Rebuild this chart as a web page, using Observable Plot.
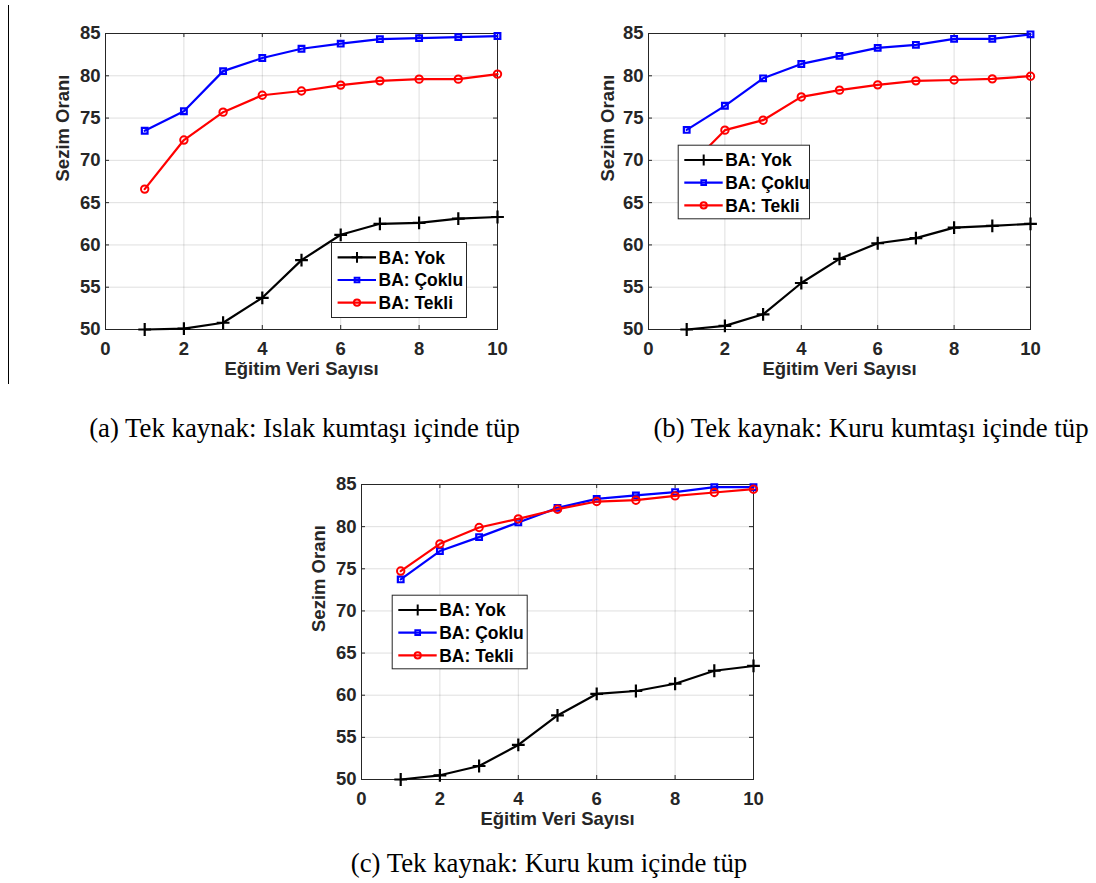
<!DOCTYPE html>
<html><head><meta charset="utf-8">
<script src="https://cdn.jsdelivr.net/npm/d3@7"></script>
<script src="https://cdn.jsdelivr.net/npm/@observablehq/plot@0.6"></script>
<style>
body{margin:0;background:#fff;}
#root{position:relative;width:1096px;height:883px;overflow:hidden;background:#fff;}
#root svg{position:absolute;}
</style></head><body><div id="root"></div>
<script>
// ---- data ----
const egitim = [1,2,3,4,5,6,7,8,9,10];
const seriesNames = ["BA: Yok","BA: Çoklu","BA: Tekli"];
const xTicks = [0,2,4,6,8,10];
const yTicks = [50,55,60,65,70,75,80,85];
const xLabel = "Eğitim Veri Sayısı";
const yLabel = "Sezim Oranı";
const a_yok   = [50.0,50.1,50.8,53.75,58.2,61.2,62.5,62.6,63.1,63.3];
const a_coklu = [73.5,75.8,80.55,82.1,83.2,83.8,84.33,84.45,84.57,84.7];
const a_tekli = [66.6,72.4,75.7,77.7,78.2,78.9,79.4,79.6,79.6,80.2];
const b_yok   = [50.0,50.43,51.8,55.5,58.35,60.2,60.8,62.05,62.25,62.5];
const b_coklu = [73.6,76.45,79.7,81.4,82.36,83.3,83.66,84.37,84.37,84.9];
const b_tekli = [69.0,73.57,74.75,77.5,78.3,78.93,79.4,79.5,79.64,79.95];
const c_yok   = [50.0,50.5,51.6,54.1,57.6,60.15,60.5,61.36,62.9,63.47];
const c_coklu = [73.74,77.1,78.76,80.5,82.23,83.3,83.7,84.1,84.68,84.68];
const c_tekli = [74.73,77.96,79.9,80.92,82.07,82.98,83.14,83.65,84.05,84.44];
const captions = [
  "(a) Tek kaynak: Islak kumtaşı içinde tüp",
  "(b) Tek kaynak: Kuru kumtaşı içinde tüp",
  "(c) Tek kaynak: Kuru kum içinde tüp"
];

// ---- drawing ----
const root = document.getElementById("root");
const dark = "#262626";
const colors = ["#000000", "#0000ff", "#ff0000"];
const sans = "'Liberation Sans', Arial, Helvetica, sans-serif";

// background layer: left rule and captions
const bg = d3.select(root).append("svg").attr("width", 1096).attr("height", 883)
  .style("left", "0px").style("top", "0px");
bg.append("line").attr("x1", 8.5).attr("x2", 8.5).attr("y1", 5).attr("y2", 384)
  .attr("stroke", "#000").attr("stroke-width", 1);
const capPos = [[304.5, 436.5], [871, 436.5], [549, 871.5]];
captions.forEach((c, i) => {
  bg.append("text").attr("x", capPos[i][0]).attr("y", capPos[i][1])
    .attr("text-anchor", "middle").attr("font-family", "'Liberation Serif', 'Times New Roman', serif")
    .attr("font-size", 26.8).attr("fill", "#000").text(c);
});

function makePanel(cfg) {
  const {left, top, width, height, ml, mr, mt, mb, yok, coklu, tekli, leg, ylabelDx} = cfg;
  const pw = width - ml - mr, ph = height - mt - mb;
  const rows = (vals) => egitim.map((x, i) => ({x, y: vals[i]}));
  const svg = Plot.plot({
    width, height, marginLeft: ml, marginRight: mr, marginTop: mt, marginBottom: mb,
    style: {background: "transparent", fontFamily: sans, fontWeight: "bold", color: dark, overflow: "visible"},
    x: {domain: [0, 10], label: null},
    y: {domain: [50, 85], label: null},
    marks: [
      Plot.gridX(xTicks, {stroke: dark, strokeOpacity: 0.15, strokeWidth: 1}),
      Plot.gridY(yTicks, {stroke: dark, strokeOpacity: 0.15, strokeWidth: 1}),
      Plot.tickX(xTicks, {x: d => d, insetTop: ph - 4, stroke: dark}),
      Plot.tickX(xTicks, {x: d => d, insetBottom: ph - 4, stroke: dark}),
      Plot.tickY(yTicks, {y: d => d, insetRight: pw - 4, stroke: dark}),
      Plot.tickY(yTicks, {y: d => d, insetLeft: pw - 4, stroke: dark}),
      Plot.frame({stroke: dark, strokeWidth: 1}),
      Plot.axisX(xTicks, {tickSize: 0, tickPadding: 12, fontSize: 18.5, fontWeight: "bold", fill: dark, label: null}),
      Plot.axisY(yTicks, {tickSize: 0, tickPadding: 5, fontSize: 18.5, fontWeight: "bold", fill: dark, label: null}),
      Plot.text([xLabel], {text: d => d, frameAnchor: "bottom", dy: 45, fontSize: 18.5, fontWeight: "bold", fill: dark}),
      Plot.text([yLabel], {text: d => d, frameAnchor: "left", rotate: -90, dx: ylabelDx, fontSize: 18.5, fontWeight: "bold", fill: dark}),
      Plot.line(rows(yok), {x: "x", y: "y", stroke: colors[0], strokeWidth: 2.2}),
      Plot.dot(rows(yok), {x: "x", y: "y", symbol: "plus", r: 4.2, stroke: colors[0], strokeWidth: 2.2}),
      Plot.line(rows(coklu), {x: "x", y: "y", stroke: colors[1], strokeWidth: 2.2}),
      Plot.dot(rows(coklu), {x: "x", y: "y", symbol: "square", r: 3.2, fill: "none", stroke: colors[1], strokeWidth: 2.2}),
      Plot.line(rows(tekli), {x: "x", y: "y", stroke: colors[2], strokeWidth: 2.2}),
      Plot.dot(rows(tekli), {x: "x", y: "y", symbol: "circle", r: 3.7, fill: "none", stroke: colors[2], strokeWidth: 2})
    ]
  });
  svg.style.position = "absolute";
  svg.style.left = left + "px";
  svg.style.top = top + "px";
  // legend box
  const g = d3.select(svg).append("g").attr("text-anchor", "start");
  g.append("rect").attr("x", leg.x + 0.5).attr("y", leg.y + 0.5).attr("width", leg.w).attr("height", leg.h)
    .attr("fill", "#fff").attr("stroke", dark).attr("stroke-width", 1);
  const syms = [[d3.symbolPlus, 40], [d3.symbolSquare, 22], [d3.symbolCircle, 30]];
  seriesNames.forEach((name, i) => {
    const cy = leg.y + 15.3 + i * 22.7;
    g.append("line").attr("x1", leg.x + 6.6).attr("x2", leg.x + 45).attr("y1", cy).attr("y2", cy)
      .attr("stroke", colors[i]).attr("stroke-width", 2.2);
    g.append("path").attr("d", d3.symbol(syms[i][0], syms[i][1])())
      .attr("transform", `translate(${leg.x + 26},${cy})`)
      .attr("fill", "none").attr("stroke", colors[i]).attr("stroke-width", 2);
    g.append("text").attr("x", leg.x + 47.5).attr("y", cy).attr("dy", "0.36em")
      .attr("text-anchor", "start")
      .attr("font-family", sans).attr("font-size", 17.5).attr("font-weight", "bold").attr("fill", "#000")
      .text(name);
  });
  root.appendChild(svg);
}

makePanel({left: 0, top: 0, width: 520, height: 400, ml: 105, mr: 23, mt: 33, mb: 71,
  yok: a_yok, coklu: a_coklu, tekli: a_tekli, ylabelDx: -42,
  leg: {x: 331, y: 242, w: 135, h: 75}});
makePanel({left: 560, top: 0, width: 536, height: 400, ml: 88, mr: 66, mt: 33, mb: 71,
  yok: b_yok, coklu: b_coklu, tekli: b_tekli, ylabelDx: -40.5,
  leg: {x: 117.7, y: 144.7, w: 131.3, h: 73.6}});
makePanel({left: 300, top: 450, width: 480, height: 400, ml: 61, mr: 27, mt: 34, mb: 71,
  yok: c_yok, coklu: c_coklu, tekli: c_tekli, ylabelDx: -42,
  leg: {x: 91.7, y: 144.7, w: 135, h: 73.6}});
</script></body></html>
